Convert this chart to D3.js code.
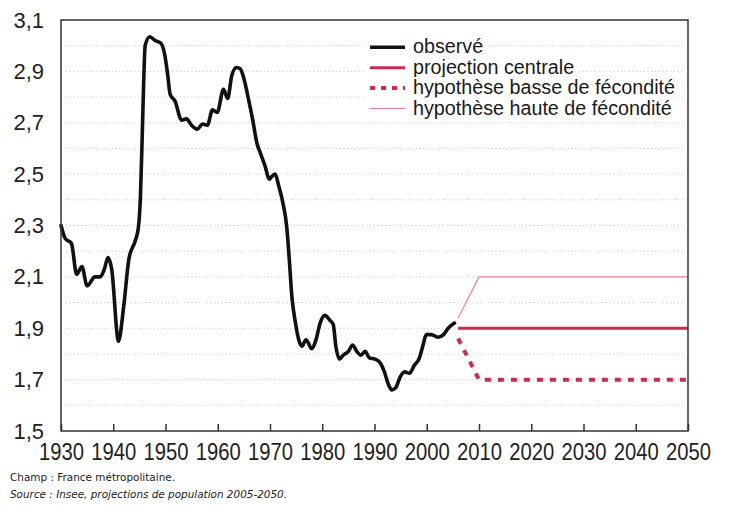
<!DOCTYPE html>
<html><head><meta charset="utf-8">
<script src="https://cdn.jsdelivr.net/npm/d3@7"></script>
<style>body{margin:0;background:#fff}svg{display:block}</style>
</head><body>
<svg id="chart" width="730" height="507"></svg>
<script>
// ---- data ----
const observedYears = [1930.0,1930.8,1932.0,1933.0,1934.0,1935.0,1936.5,1937.5,1938.3,1939.0,1939.7,1941.0,1942.0,1943.0,1944.2,1944.8,1945.2,1945.6,1945.9,1946.1,1947.0,1948.0,1949.1,1949.9,1950.4,1950.9,1951.8,1953.1,1954.0,1955.0,1956.1,1957.1,1958.0,1959.0,1959.9,1961.1,1961.9,1962.7,1963.6,1964.3,1964.9,1965.8,1966.7,1967.5,1968.2,1969.0,1969.9,1970.3,1971.0,1971.6,1972.5,1973.2,1973.7,1974.2,1974.8,1975.5,1976.1,1976.9,1978.0,1978.8,1979.6,1980.5,1981.5,1982.1,1982.6,1983.3,1984.0,1985.0,1985.8,1986.6,1987.4,1988.2,1989.0,1990.1,1991.1,1991.9,1992.6,1993.3,1994.1,1994.9,1995.8,1996.7,1997.6,1998.6,1999.3,1999.9,2000.9,2002.2,2003.2,2004.1,2005.3];
const observedValues = [2.30,2.25,2.23,2.11,2.14,2.065,2.10,2.10,2.13,2.175,2.13,1.85,1.985,2.17,2.24,2.29,2.41,2.69,2.91,3.00,3.035,3.02,3.01,2.96,2.89,2.81,2.785,2.71,2.715,2.69,2.675,2.695,2.69,2.75,2.74,2.83,2.795,2.885,2.915,2.91,2.88,2.80,2.71,2.62,2.58,2.535,2.48,2.49,2.50,2.46,2.385,2.295,2.165,2.02,1.93,1.855,1.83,1.855,1.82,1.855,1.92,1.95,1.93,1.915,1.83,1.78,1.795,1.81,1.835,1.81,1.795,1.81,1.785,1.78,1.765,1.73,1.685,1.66,1.67,1.71,1.73,1.725,1.755,1.785,1.835,1.875,1.875,1.865,1.875,1.90,1.92];
const centralYears = [2006, 2050];
const centralValues = [1.9, 1.9];
const lowYears = [2006, 2010, 2050];
const lowValues = [1.86, 1.7, 1.7];
const highYears = [2006, 2010, 2050];
const highValues = [1.94, 2.1, 2.1];
const yTickValues = [1.5, 1.7, 1.9, 2.1, 2.3, 2.5, 2.7, 2.9, 3.1];
const gridValues = [1.6, 1.7, 1.8, 1.9, 2.0, 2.1, 2.2, 2.3, 2.4, 2.5, 2.6, 2.7, 2.8, 2.9, 3.0];
const xTickValues = [1930, 1940, 1950, 1960, 1970, 1980, 1990, 2000, 2010, 2020, 2030, 2040, 2050];
const legendLabels = ["observé", "projection centrale", "hypothèse basse de fécondité", "hypothèse haute de fécondité"];
const noteLines = ["Champ : France métropolitaine.", "Source : Insee, projections de population 2005-2050."];

// ---- layout ----
const L = 61, T = 20, R = 688, B = 431;
const RED = "#cf2a4e", PINK = "#e58396", BLACK = "#111";
const svg = d3.select("#chart");
const x = d3.scaleLinear().domain([1930, 2050]).range([L, R]);
const y = d3.scaleLinear().domain([1.5, 3.1]).range([B, T]);

// grid
svg.append("g").selectAll("line").data(gridValues).join("line")
  .attr("x1", L + 5).attr("x2", R - 4)
  .attr("y1", d => y(d)).attr("y2", d => y(d))
  .attr("stroke", "#c9c9c9").attr("stroke-width", 1).attr("stroke-dasharray", "1.2,2.6");

// series
const pts = (xs, vs) => xs.map((d, i) => [d, vs[i]]);
const line = d3.line().x(d => x(d[0])).y(d => y(d[1]));
svg.append("path").datum(pts(highYears, highValues)).attr("d", line)
  .attr("fill", "none").attr("stroke", PINK).attr("stroke-width", 1.2);
svg.append("path").datum(pts(lowYears, lowValues)).attr("d", line)
  .attr("fill", "none").attr("stroke", RED).attr("stroke-width", 4).attr("stroke-dasharray", "6,7");
svg.append("path").datum(pts(centralYears, centralValues)).attr("d", line)
  .attr("fill", "none").attr("stroke", RED).attr("stroke-width", 3);
svg.append("path").datum(pts(observedYears, observedValues))
  .attr("d", line.curve(d3.curveMonotoneX))
  .attr("fill", "none").attr("stroke", BLACK).attr("stroke-width", 3.6)
  .attr("stroke-linejoin", "round").attr("stroke-linecap", "round");

// frame
svg.append("rect").attr("x", L).attr("y", T).attr("width", R - L).attr("height", B - T)
  .attr("fill", "none").attr("stroke", "#333").attr("stroke-width", 1.5);

// axes
const xAxis = svg.append("g").attr("transform", `translate(0,${B})`)
  .call(d3.axisBottom(x).tickValues(xTickValues).tickSize(-7).tickPadding(13).tickFormat(d3.format("d")));
xAxis.select(".domain").remove();
xAxis.selectAll(".tick line").attr("stroke", "#333").attr("stroke-width", 1.5);
xAxis.selectAll("text").attr("font-family", "Liberation Sans, Arial, sans-serif").attr("font-size", 23)
  .attr("fill", "#222").attr("transform", "scale(0.88,1)");

const fmt = d => d3.format(".1f")(d).replace(".", ",");
const yAxis = svg.append("g").attr("transform", `translate(${L},0)`)
  .call(d3.axisLeft(y).tickValues(yTickValues).tickSize(0).tickPadding(17).tickFormat(fmt));
yAxis.select(".domain").remove();
yAxis.selectAll("text").attr("font-family", "Liberation Sans, Arial, sans-serif").attr("font-size", 22).attr("fill", "#222");

// legend
const leg = svg.append("g");
const styles = [
  {stroke: BLACK, w: 3.6, dash: null},
  {stroke: RED, w: 3, dash: null},
  {stroke: RED, w: 4, dash: "5,6"},
  {stroke: PINK, w: 1.2, dash: null}
];
legendLabels.forEach((lab, i) => {
  const base = 53.3 + i * 20.4;
  const g = leg.append("g");
  const bg = g.append("rect").attr("fill", "#fff");
  g.append("line").attr("x1", 370).attr("x2", 405).attr("y1", base - 6).attr("y2", base - 6)
    .attr("stroke", styles[i].stroke).attr("stroke-width", styles[i].w)
    .attr("stroke-dasharray", styles[i].dash);
  const t = g.append("text").attr("transform", `translate(413,${base}) scale(0.94,1)`)
    .attr("font-family", "Liberation Sans, Arial, sans-serif").attr("font-size", 21)
    .attr("fill", "#1a1a1a").text(lab);
  const w = t.node().getComputedTextLength() * 0.94;
  bg.attr("x", 366).attr("y", base - 17).attr("width", 413 + w - 366 + 2).attr("height", 21);
});

// notes
svg.append("text").attr("x", 10).attr("y", 481).attr("font-family", "DejaVu Sans, sans-serif")
  .attr("font-size", 10).attr("fill", "#222")
  .attr("textLength", 165).attr("lengthAdjust", "spacingAndGlyphs").text(noteLines[0]);
svg.append("text").attr("x", 10).attr("y", 498).attr("font-family", "DejaVu Sans, sans-serif")
  .attr("font-size", 10).attr("font-style", "italic").attr("fill", "#222")
  .attr("textLength", 277).attr("lengthAdjust", "spacingAndGlyphs").text(noteLines[1]);
</script>
</body></html>
